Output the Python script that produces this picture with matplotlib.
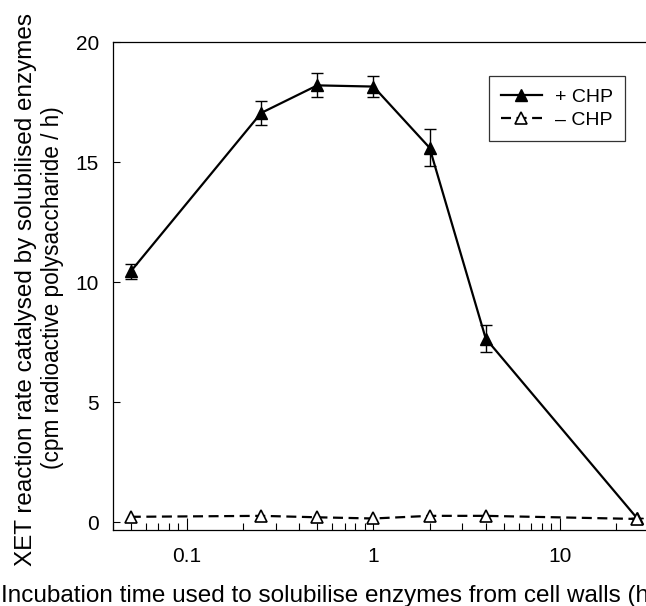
import numpy as np
import matplotlib
matplotlib.use('Agg')
from matplotlib import pyplot as plt
from matplotlib.ticker import LogLocator, FixedLocator, NullFormatter

# incubation time (h)
times = [0.05, 0.25, 0.5, 1, 2, 4, 26]
# + CHP
plus_chp = [10.45, 17.05, 18.2, 18.15, 15.6, 7.65, 0.15]
plus_err = [0.3, 0.5, 0.5, 0.45, 0.78, 0.55, 0.0]
# - CHP
minus_chp = [0.22, 0.26, 0.2, 0.15, 0.26, 0.26, 0.13]

x_ticks = [0.1, 1, 10]
x_tick_labels = ['0.1', '1', '10']
y_ticks = [0, 5, 10, 15, 20]

plt.rcParams['font.family'] = ['Liberation Sans', 'DejaVu Sans']

fig = plt.figure(figsize=(6.46, 6.06), dpi=100)
# axes runs a little past the right edge, like the cropped original
ax = fig.add_axes([0.1745, 0.1254, 0.830, 0.805])

# error bars first, then the lines with markers on top
ax.errorbar(times, plus_chp, yerr=plus_err, fmt='none', ecolor='black',
            elinewidth=1.0, capsize=4, capthick=1.0, zorder=2)
l1, = ax.plot(times, plus_chp, color='black', linestyle='-', linewidth=1.6,
              marker='^', markersize=9, markerfacecolor='black', markeredgecolor='black',
              label='+ CHP', zorder=3)
l2, = ax.plot(times, minus_chp, color='black', linestyle=(0, (4.5, 2.5)), linewidth=1.6,
              marker='^', markersize=9, markerfacecolor='white', markeredgecolor='black',
              markeredgewidth=1.2, label='\u2013 CHP', zorder=3)

ax.set_xscale('log')
ax.set_xlim(0.04, 30)
ax.set_ylim(-0.33, 20)

ax.xaxis.set_major_locator(FixedLocator(x_ticks))
ax.set_xticklabels(x_tick_labels)
ax.xaxis.set_minor_locator(LogLocator(base=10, subs=np.arange(2, 10)))
ax.xaxis.set_minor_formatter(NullFormatter())
ax.set_yticks(y_ticks)

ax.tick_params(axis='x', which='major', direction='in', length=9, width=0.8, labelsize=15, pad=12)
ax.tick_params(axis='x', which='minor', direction='in', length=5, width=0.8)
ax.tick_params(axis='y', which='major', direction='in', length=5, width=0.8, labelsize=15, pad=10)
ax.tick_params(top=False, right=False, which='both')

for s in ax.spines.values():
    s.set_linewidth(0.9)

ax.set_xlabel('Incubation time used to solubilise enzymes from cell walls (h)', fontsize=17.5, ha='left')
ax.xaxis.set_label_coords(-0.2085, -0.1125)

# y label, two lines drawn as separate texts
ax.text(-0.161, 0.494, 'XET reaction rate catalysed by solubilised enzymes', transform=ax.transAxes,
        rotation=90, ha='center', va='center', fontsize=17.5)
ax.text(-0.112, 0.496, '(cpm radioactive polysaccharide / h)', transform=ax.transAxes,
        rotation=90, ha='center', va='center', fontsize=16.3)

leg = ax.legend(handles=[l1, l2], loc='upper left', bbox_to_anchor=(0.702, 0.930), fontsize=14,
                frameon=True, fancybox=False, edgecolor='black', handlelength=2.1, borderpad=0.6,
                labelspacing=0.3, handletextpad=0.7, borderaxespad=0)
leg.get_frame().set_linewidth(0.9)

fig.savefig('out.png', dpi=100)
